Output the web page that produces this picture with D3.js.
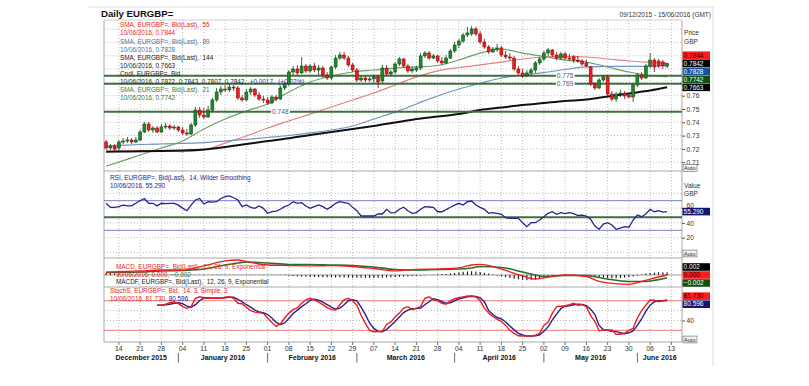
<!DOCTYPE html>
<html>
<head>
<meta charset="utf-8">
<script src="https://cdn.jsdelivr.net/npm/d3@7"></script>
<style>
  html, body { margin: 0; padding: 0; background: #fff; }
  svg { display: block; font-family: 'Liberation Sans', Arial, sans-serif; }
  .pre { white-space: pre; }
</style>
</head>
<body>
<svg id="chart" width="809" height="386"></svg>
<script>
// Daily EURGBP= candles, 09/12/2015 .. 10/06/2016 (one value per trading day)
const openP = [
.7252,.7207,.7222,.7207,.7252,.7259,.7267,.7252,.7267,.7327,
.7387,.7342,.7357,.7327,.7365,.7372,.7357,.7365,.7342,.7320,
.7312,.7380,.7492,.7455,.7440,.7492,.7568,.7628,.7650,.7643,
.7665,.7658,.7583,.7568,.7628,.7650,.7605,.7575,.7568,.7545,
.7590,.7575,.7658,.7688,.7778,.7801,.7771,.7823,.7786,.7823,
.7793,.7808,.7756,.7733,.7816,.7883,.7906,.7883,.7831,.7793,
.7718,.7733,.7718,.7726,.7741,.7711,.7808,.7763,.7778,.7838,
.7876,.7823,.7786,.7793,.7808,.7899,.7921,.7883,.7899,.7861,
.7846,.7883,.7936,.7981,.8011,.8056,.8064,.8102,.8064,.8004,
.7966,.7929,.7951,.7959,.7906,.7891,.7883,.7801,.7771,.7748,
.7771,.7793,.7846,.7876,.7921,.7944,.7906,.7883,.7914,.7883,
.7891,.7868,.7861,.7846,.7816,.7688,.7658,.7718,.7741,.7613,
.7575,.7613,.7620,.7605,.7590,.7680,.7756,.7733,.7823,.7868,
.7861,.7853,.7822];
const highP = [
.7267,.7237,.7237,.7267,.7282,.7289,.7282,.7289,.7342,.7402,
.7402,.7372,.7372,.7387,.7395,.7387,.7380,.7372,.7365,.7350,
.7395,.7515,.7515,.7507,.7523,.7583,.7658,.7673,.7680,.7688,
.7680,.7673,.7605,.7650,.7665,.7658,.7628,.7598,.7590,.7605,
.7605,.7673,.7703,.7793,.7823,.7831,.7891,.7838,.7838,.7846,
.7831,.7823,.7778,.7823,.7906,.7929,.7929,.7899,.7846,.7808,
.7748,.7748,.7741,.7756,.7756,.7831,.7831,.7793,.7853,.7891,
.7883,.7838,.7816,.7823,.7921,.7936,.7936,.7914,.7906,.7891,
.7906,.7951,.8004,.8026,.8072,.8117,.8124,.8117,.8087,.8026,
.7981,.7966,.7989,.7974,.7936,.7921,.7899,.7823,.7801,.7793,
.7808,.7861,.7891,.7936,.7959,.7951,.7929,.7929,.7929,.7914,
.7906,.7899,.7876,.7868,.7823,.7703,.7733,.7756,.7756,.7635,
.7628,.7643,.7635,.7620,.7695,.7771,.7778,.7838,.7921,.7883,
.7876,.7868,.7843];
const lowP = [
.7192,.7192,.7184,.7192,.7237,.7244,.7237,.7244,.7259,.7320,
.7327,.7320,.7320,.7320,.7350,.7342,.7342,.7327,.7305,.7297,
.7305,.7365,.7432,.7425,.7432,.7477,.7553,.7605,.7628,.7628,
.7635,.7568,.7553,.7560,.7605,.7590,.7560,.7545,.7530,.7538,
.7560,.7568,.7643,.7673,.7756,.7756,.7763,.7771,.7771,.7778,
.7756,.7733,.7718,.7718,.7801,.7868,.7868,.7816,.7778,.7703,
.7703,.7703,.7703,.7695,.7658,.7695,.7748,.7748,.7763,.7823,
.7808,.7771,.7771,.7778,.7793,.7883,.7868,.7876,.7846,.7831,
.7838,.7876,.7921,.7959,.7996,.8041,.8049,.8049,.7989,.7951,
.7914,.7921,.7929,.7891,.7876,.7868,.7786,.7756,.7733,.7741,
.7756,.7771,.7831,.7861,.7899,.7891,.7868,.7868,.7868,.7861,
.7846,.7846,.7823,.7816,.7673,.7643,.7650,.7703,.7598,.7560,
.7553,.7590,.7575,.7583,.7553,.7665,.7718,.7726,.7808,.7778,
.7808,.7801,.7807];
const closeP = [
.7207,.7222,.7199,.7252,.7259,.7267,.7252,.7267,.7327,.7387,
.7342,.7357,.7327,.7365,.7372,.7357,.7365,.7342,.7320,.7312,
.7380,.7492,.7455,.7440,.7492,.7568,.7628,.7650,.7643,.7665,
.7658,.7583,.7568,.7628,.7650,.7605,.7575,.7568,.7545,.7590,
.7575,.7658,.7688,.7778,.7801,.7771,.7823,.7786,.7823,.7793,
.7808,.7756,.7733,.7816,.7883,.7906,.7883,.7831,.7793,.7718,
.7733,.7718,.7726,.7741,.7703,.7808,.7763,.7778,.7838,.7876,
.7823,.7786,.7801,.7808,.7899,.7921,.7883,.7899,.7861,.7846,
.7883,.7936,.7981,.8011,.8056,.8072,.8102,.8064,.8004,.7966,
.7929,.7951,.7959,.7906,.7891,.7883,.7801,.7771,.7748,.7771,
.7793,.7846,.7876,.7921,.7944,.7906,.7883,.7914,.7883,.7876,
.7868,.7861,.7838,.7823,.7688,.7658,.7718,.7741,.7613,.7575,
.7613,.7620,.7598,.7590,.7680,.7756,.7733,.7823,.7868,.7816,
.7823,.7825,.7842];

// moving averages, read at each Monday (plus first and last day)
const smaDays = [0,3,8,13,18,23,28,33,38,43,48,53,58,63,68,73,78,83,88,93,98,103,108,113,118,123,128,132];
const sma21 = [.7071,.7101,.7154,.7207,.7259,.7350,.7425,.7485,.7538,.7628,.7703,.7748,.7778,.7793,
  .7808,.7816,.7827,.7868,.7920,.7950,.7920,.7895,.7868,.7853,.7816,.7778,.7752,.7742];
const sma55 = [.7184,.7184,.7188,.7184,.7180,.7192,.7244,.7297,.7357,.7410,.7462,.7515,.7568,.7620,
  .7680,.7741,.7786,.7812,.7831,.7853,.7876,.7891,.7895,.7891,.7876,.7861,.7850,.7844];
const sma89 = [.7222,.7226,.7233,.7237,.7241,.7248,.7259,.7271,.7286,.7301,.7320,.7342,.7372,.7425,
  .7477,.7538,.7598,.7650,.7693,.7733,.7756,.7774,.7797,.7816,.7820,.7820,.7823,.7828];
const sma144 = [.7179,.7180,.7182,.7184,.7188,.7195,.7214,.7237,.7259,.7280,.7305,.7327,.7350,.7372,
  .7398,.7425,.7444,.7462,.7492,.7511,.7530,.7545,.7560,.7571,.7594,.7617,.7639,.7663];

// hand-drawn support lines and where their labels sit
const levels = [0.775, 0.769, 0.748];
const levelLabelDay = [108, 108, 41];

// RSI 14, Wilder smoothing
const rsi = [
66.5,61,61,62,64,63,63,66.5,70,73,
66.5,66.5,63,66.5,66,66.5,66.5,64,60,56.5,
64,71,73,65.5,68.6,68,68.6,73,75.4,76.4,
74,70.9,62,64.2,61,59.7,62.8,59.7,53,55.1,
56,58.4,62,64.2,68.6,66.5,67.3,62.8,59.7,62,
64.2,61.9,58.4,62,66.5,68.6,67.5,66.5,61,56.5,
49.3,49.3,49.3,49.3,52,52,58.4,53.5,54,58.4,
61.1,56.5,53,54,58.4,61.9,61.5,61.1,55.1,55.1,
58,61.1,64,66.5,64.2,68.6,69.6,64.2,61,58.4,
53,53.8,53,51.6,47,46.2,46.2,46.2,40.3,34.9,
40.3,40.3,44,48.4,53,55.1,51.6,53.8,52.5,53.8,
52.5,50,50.5,49.3,45,35.8,31.5,38.5,40.3,37.2,
31.4,33.1,34.9,34.1,43.9,50.7,48.4,52,58.4,55.1,
56.5,54.7,55.29];
const rsiBands = [70, 30];
const rsiMark = 47.5;

// MACD 12/26/9
const macdDays = [0,8,13,18,23,28,31,33,38,43,48,53,58,63,68,73,78,83,86,88,93,98,101,103,108,113,116,118,123,126,128,132];
const macdLine = [.0022,.0030,.0037,.0037,.0067,.0104,.0111,.0100,.0074,.0070,.0067,.0070,.0063,.0048,.0030,.0041,
  .0044,.0052,.0074,.0078,.0044,-.0007,-.0030,-.0022,.0000,-.0011,-.0048,-.0059,-.0069,-.0048,-.0030,.0000];
const macdSignal = [.0019,.0022,.0030,.0033,.0044,.0074,.0089,.0096,.0089,.0078,.0078,.0074,.0070,.0059,.0041,.0037,
  .0041,.0044,.0052,.0063,.0056,.0022,.0000,-.0011,-.0004,-.0004,-.0019,-.0030,-.0048,-.0048,-.0044,-.0020];
const macdHist = [
.0016,.0014,.0012,.0010,.0003,.0003,.0003,.0003,.0003,.0003,
.0003,.0003,.0003,.0002,.0002,.0002,.0002,.0002,.0002,.0002,
.0002,.0002,.0002,.0002,.0002,.0002,.0002,.0002,.0002,.0002,
.0002,.0002,.0002,.0002,.0002,.0002,.0002,.0002,.0002,.0002,
.0002,.0002,.0002,-.0005,-.0008,-.0010,-.0012,-.0012,-.0014,-.0015,
-.0016,-.0016,-.0017,-.0018,-.0018,-.0018,-.0019,-.0020,-.0020,-.0020,
-.0021,-.0021,-.0022,-.0022,-.0021,-.0020,-.0019,-.0018,-.0016,-.0014,
-.0012,-.0010,-.0008,-.0006,-.0004,-.0002,.0000,.0002,.0004,.0006,
.0008,.0012,.0016,.0020,.0024,.0026,.0028,.0026,.0022,.0016,
.0010,.0004,-.0004,-.0010,-.0016,-.0022,-.0028,-.0032,-.0036,-.0038,
-.0036,-.0032,-.0026,-.0020,-.0014,-.0008,-.0004,-.0003,-.0002,-.0002,
-.0003,-.0004,-.0005,-.0006,-.0010,-.0014,-.0018,-.0020,-.0022,-.0024,
-.0024,-.0022,-.0020,-.0016,-.0010,-.0004,.0004,.0010,.0014,.0018,
.0020,.0020,.0020];

// Slow stochastic 14/3/3, first value on day 12
const stochStart = 12;
const stochK = [
71,71,73,76,78,74,68,64.6,68,85,
88,86,85,85,86,85,87,88,85,75,
74,67,60,57,55.5,54.5,45,36,28,33,
45,55,62,66,75,82,85,82,77,72,
66,62,61,72,82,85,80,71,50,34,
20,17,17.5,18,32,37,47,55,65,68,
62,65,68,85,88,82,80,75,73,80,
84,86,88,90,90,88,80,65,55,48,
42,38,30,20,14,9,8.4,8.4,8.5,10,
14,30,37,55,68,69,70,72,75,71,
72,68,50,38,19,20.6,21,20.6,12,12,
14,20,24,45,60,71,81.5,81,78,80,
81.73];
const stochD = [
71,71,72,73,75,76,74,69,67,72,
80,86,86,85,85,85,86,87,87,83,
78,72,67,61,57.5,56,52,45,36,32,
35,44,54,61,68,74,81,83,81,77,
72,67,63,65,72,80,82,80,67,52,
35,24,18,17,22,30,38,47,56,61,
64,64,65,72,78,84,82,78,75,76,
80,84,86,88,89,88.5,86,78,60,52,
46,43,37,29,21,14,10.5,8.6,8.5,9,
11,18,27,41,53,64,69,70,72,73,
72.7,70,63,52,30,21,20,18,18,15,
13,15,19,30,43,59,71,78,80,80,
80.596];
const stochBands = [80, 20];

const priceTicks = [0.71, 0.72, 0.73, 0.74, 0.75, 0.76];
const priceGrid = [0.71, 0.72, 0.73, 0.74, 0.75, 0.76, 0.77, 0.78, 0.79, 0.80, 0.81];

// ------------------------------------------------------------------
const C = {
  up: '#1d8a2a', upEdge: '#0c3d12', down: '#f21a1a', downEdge: '#7a0a0a',
  red: '#e02828', blue: '#4a74aa', dark: '#222', green: '#3b7d3b', navy: '#24248a',
  grid: '#bdbdbd', frame: '#a9a9a9', level: '#3f6f3f',
};
const svg = d3.select('#chart');
const plotL = 104, plotR = 682, outerR = 713;
const P = {
  price: [20, 171], rsi: [171, 258], macd: [258, 287], stoch: [287, 342],
};

const days = [];
for (let d = new Date(2015, 11, 9); d <= new Date(2016, 5, 15); d.setDate(d.getDate() + 1)) {
  if (d.getDay() % 6 !== 0) days.push(new Date(d));
}
const last = closeP.length - 1;
const x = d3.scaleBand().domain(d3.range(days.length)).range([plotL, plotR]).padding(0);
const cx = (i) => x(i) + x.bandwidth() / 2;

const yP = d3.scaleLinear().domain([0.7034, 0.8169]).range([171, 20]);
const yR = d3.scaleLinear().domain([0, 100]).range([252.5, 178.5]);
const yM = d3.scaleLinear().domain([-0.00889, 0.01259]).range([287, 258]);
const yS = d3.scaleLinear().domain([0, 100]).range([340.2, 290.9]);

const dmy = d3.timeFormat('%d/%m/%Y');
const f4 = d3.format('.4f'), f3 = d3.format('.3f');
const mondays = d3.range(days.length).filter((i) => days[i].getDay() === 1);

// clip paths
const defs = svg.append('defs');
for (const [k, [t, b]] of Object.entries(P)) {
  defs.append('clipPath').attr('id', 'clip-' + k)
    .append('rect').attr('x', plotL).attr('y', t).attr('width', plotR - plotL).attr('height', b - t);
}

// page frame + title
svg.append('line').attr('x1', 88).attr('x2', outerR).attr('y1', 7).attr('y2', 7).attr('stroke', '#dcdcdc');
svg.append('line').attr('x1', outerR).attr('x2', outerR).attr('y1', 7).attr('y2', 366).attr('stroke', '#dcdcdc');
svg.append('text').attr('x', 101).attr('y', 16.5).attr('font-size', 9.6).attr('font-weight', 'bold')
  .attr('fill', '#111').text('Daily EURGBP=');
svg.append('text').attr('x', 711).attr('y', 17).attr('text-anchor', 'end').attr('font-size', 6.5)
  .attr('fill', '#333').text(`${dmy(days[0])} - ${dmy(days[days.length - 1])} (GMT)`);

// grids
const gridG = svg.append('g');
for (const [t, b] of Object.values(P)) {
  gridG.append('g').selectAll('line').data(mondays).join('line')
    .attr('x1', (i) => cx(i)).attr('x2', (i) => cx(i)).attr('y1', t).attr('y2', b)
    .attr('stroke', C.grid).attr('stroke-dasharray', '1,2');
}
function hGrid(scale, vals) {
  gridG.append('g').selectAll('line').data(vals).join('line')
    .attr('x1', plotL).attr('x2', plotR).attr('y1', (v) => scale(v)).attr('y2', (v) => scale(v))
    .attr('stroke', C.grid).attr('stroke-dasharray', '1,2');
}
hGrid(yP, priceGrid);
hGrid(yR, [0, 20, 40, 60, 80]);
hGrid(yS, [40, 60]);

// frames
const frame = svg.append('g').attr('stroke', C.frame).attr('fill', 'none');
frame.append('line').attr('x1', plotL).attr('x2', plotL).attr('y1', 20).attr('y2', 342);
frame.append('line').attr('x1', plotR).attr('x2', plotR).attr('y1', 20).attr('y2', 342);
frame.append('line').attr('x1', plotL).attr('x2', plotR).attr('y1', 20).attr('y2', 20).attr('stroke', '#cfcfcf');
for (const yy of [171, 258, 287, 342]) {
  frame.append('line').attr('x1', plotL).attr('x2', plotR).attr('y1', yy).attr('y2', yy);
}

// ---------------- price panel ----------------
const pg = svg.append('g').attr('clip-path', 'url(#clip-price)');
const smaLine = (arr) => d3.line().x((d, k) => cx(smaDays[k])).y((d) => yP(d)).curve(d3.curveMonotoneX)(arr);
pg.append('path').attr('d', smaLine(sma55)).attr('fill', 'none').attr('stroke', '#e48080').attr('stroke-width', 1.2);
pg.append('path').attr('d', smaLine(sma89)).attr('fill', 'none').attr('stroke', '#6f93c0').attr('stroke-width', 1.2);
pg.append('path').attr('d', smaLine(sma21)).attr('fill', 'none').attr('stroke', '#6d9e6d').attr('stroke-width', 1.2);
pg.append('path').attr('d', smaLine(sma144)).attr('fill', 'none').attr('stroke', '#111').attr('stroke-width', 2);

pg.append('g').selectAll('line').data(levels).join('line')
  .attr('x1', plotL).attr('x2', plotR).attr('y1', (v) => yP(v)).attr('y2', (v) => yP(v))
  .attr('stroke', C.level).attr('stroke-width', 2);

const candles = pg.append('g').selectAll('g').data(d3.range(closeP.length)).join('g');
candles.append('line')
  .attr('x1', (i) => cx(i)).attr('x2', (i) => cx(i))
  .attr('y1', (i) => yP(highP[i])).attr('y2', (i) => yP(lowP[i]))
  .attr('stroke', (i) => closeP[i] >= openP[i] ? C.upEdge : C.downEdge).attr('stroke-width', 0.8);
candles.append('rect')
  .attr('x', (i) => cx(i) - 1.5).attr('width', 3)
  .attr('y', (i) => yP(Math.max(openP[i], closeP[i])))
  .attr('height', (i) => Math.max(1, Math.abs(yP(openP[i]) - yP(closeP[i]))))
  .attr('fill', (i) => closeP[i] >= openP[i] ? C.up : C.down)
  .attr('stroke', (i) => closeP[i] >= openP[i] ? C.upEdge : C.downEdge).attr('stroke-width', 0.5);

// level labels
levels.forEach((v, k) => {
  const g = svg.append('g');
  const t = g.append('text').attr('x', cx(levelLabelDay[k])).attr('y', yP(v) + 2.3)
    .attr('text-anchor', 'middle').attr('font-size', 6.6).attr('fill', '#50509a').text(d3.format('.3f')(v));
  const bb = t.node().getBBox();
  g.insert('rect', 'text').attr('x', bb.x - 1).attr('y', bb.y).attr('width', bb.width + 2).attr('height', bb.height)
    .attr('fill', '#fff');
});

// price legend
const chg = closeP[last] - closeP[last - 1];
const sgn = (v) => (v >= 0 ? '+' : '') ;
const priceLegend = [
  [['SMA, EURGBP=, Bid(Last),  55', C.red]],
  [[`${dmy(days[last])}, ${f4(sma55[sma55.length - 1])}`, C.red]],
  [['SMA, EURGBP=, Bid(Last),  89', C.blue]],
  [[`${dmy(days[last])}, ${f4(sma89[sma89.length - 1])}`, C.blue]],
  [['SMA, EURGBP=, Bid(Last),  144', C.dark]],
  [[`${dmy(days[last])}, ${f4(sma144[sma144.length - 1])}`, C.dark]],
  [['Cndl, EURGBP=, Bid', C.dark]],
  [[`${dmy(days[last])}, ${f4(openP[last])}, ${f4(highP[last])}, ${f4(lowP[last])}, ${f4(closeP[last])},  `, C.dark],
   [`${sgn(chg)}${f4(chg)},  (${sgn(chg)}${d3.format('.2f')(chg / closeP[last - 1] * 100)}%)`, '#2b2bc4']],
  [['SMA, EURGBP=, Bid(Last),  21', C.green]],
  [[`${dmy(days[last])}, ${f4(sma21[sma21.length - 1])}`, C.green]],
];
function legend(rows, x0, y0, step) {
  rows.forEach((parts, r) => {
    const t = svg.append('text').attr('class', 'pre').attr('x', x0).attr('y', y0 + r * step).attr('font-size', 6.4);
    parts.forEach(([s, col]) => t.append('tspan').attr('fill', col).text(s));
  });
}
legend(priceLegend, 120, 27.4, 8.07);

// ---------------- RSI panel ----------------
const rg = svg.append('g').attr('clip-path', 'url(#clip-rsi)');
rg.append('g').selectAll('line').data(rsiBands).join('line')
  .attr('x1', plotL).attr('x2', plotR).attr('y1', (v) => yR(v)).attr('y2', (v) => yR(v))
  .attr('stroke', '#7c7cc6').attr('stroke-width', 1);
rg.append('line').attr('x1', plotL).attr('x2', plotR).attr('y1', yR(rsiMark)).attr('y2', yR(rsiMark))
  .attr('stroke', C.level).attr('stroke-width', 2);
rg.append('path').attr('d', d3.line().x((d, i) => cx(i)).y((d) => yR(d))(rsi))
  .attr('fill', 'none').attr('stroke', C.navy).attr('stroke-width', 1.3);
legend([[['RSI, EURGBP=, Bid(Last),  14, Wilder Smoothing', C.navy]],
        [[`${dmy(days[last])}, ${f3(rsi[last])}`, C.navy]]], 110, 179.6, 8.3);

// ---------------- MACD panel ----------------
const mg = svg.append('g').attr('clip-path', 'url(#clip-macd)');
mg.append('line').attr('x1', plotL).attr('x2', plotR).attr('y1', yM(0)).attr('y2', yM(0)).attr('stroke', '#9a9a9a');
mg.append('g').selectAll('line').data(macdHist).join('line')
  .attr('x1', (d, i) => cx(i)).attr('x2', (d, i) => cx(i))
  .attr('y1', yM(0)).attr('y2', (d) => yM(d)).attr('stroke', '#000').attr('stroke-width', 1);
const macdPath = (arr) => d3.line().x((d, k) => cx(macdDays[k])).y((d) => yM(d)).curve(d3.curveMonotoneX)(arr);
mg.append('path').attr('d', macdPath(macdSignal)).attr('fill', 'none').attr('stroke', '#2f6a2f').attr('stroke-width', 1.6);
mg.append('path').attr('d', macdPath(macdLine)).attr('fill', 'none').attr('stroke', '#f01c1c').attr('stroke-width', 1.3);
legend([[['MACD, EURGBP=, Bid(Last),  12, 26, 9, Exponential', C.red]],
        [[`${dmy(days[last])}, ${f3(macdLine[macdLine.length - 1])}, `, C.red],
         [f3(macdSignal[macdSignal.length - 1]), C.green]],
        [['MACDF, EURGBP=, Bid(Last),  12, 26, 9, Exponential', C.dark]]], 116, 268.9, 7.6);

// ---------------- Stochastic panel ----------------
const sg = svg.append('g').attr('clip-path', 'url(#clip-stoch)');
sg.append('g').selectAll('line').data(stochBands).join('line')
  .attr('x1', plotL).attr('x2', plotR).attr('y1', (v) => yS(v)).attr('y2', (v) => yS(v))
  .attr('stroke', '#e87a7a').attr('stroke-width', 1);
const stochPath = d3.line().x((d, k) => cx(stochStart + k)).y((d) => yS(d));
sg.append('path').attr('d', stochPath(stochD)).attr('fill', 'none').attr('stroke', C.navy).attr('stroke-width', 1.4);
sg.append('path').attr('d', stochPath(stochK)).attr('fill', 'none').attr('stroke', '#f01c1c').attr('stroke-width', 1.4);
legend([[['StochS, EURGBP=, Bid,  14, 3, Simple, 3', C.red]],
        [[`${dmy(days[last])}, ${f3(stochK[stochK.length - 1])}, `, C.red],
         [f3(stochD[stochD.length - 1]), C.navy]]], 110, 293.3, 7.3);

// ---------------- right axes ----------------
function rightAxis(scale, vals, fmt) {
  const g = svg.append('g').attr('transform', `translate(${plotR},0)`)
    .call(d3.axisRight(scale).tickValues(vals).tickFormat(fmt).tickSize(3).tickPadding(1.5));
  g.select('.domain').remove();
  g.selectAll('line').attr('stroke', '#555');
  g.selectAll('text').attr('font-size', 6.6).attr('fill', '#333').attr('font-family', null);
  return g;
}
rightAxis(yP, priceTicks, d3.format('.2f'));
const rsiAxis = rightAxis(yR, [20, 40, 60], d3.format('d'));
// the 60 label peeks out above the RSI value tag, as in the source chart
rsiAxis.selectAll('.tick').filter((d) => d === 60).select('text').attr('dy', '-0.05em');
rightAxis(yS, [40], d3.format('d'));

const hdr = (s, yy) => svg.append('text').attr('x', 684).attr('y', yy).attr('font-size', 6.6).attr('fill', '#333').text(s);
hdr('Price', 34.6); hdr('GBP', 43.9); hdr('Value', 188); hdr('GBP', 196.3);

// last-value tags, spread apart when they collide
function spread(items, gap) {
  items.sort((a, b) => a.y0 - b.y0);
  let groups = items.map((d) => ({ items: [d], mean: d.y0 }));
  let merged = true;
  while (merged) {
    merged = false;
    for (let k = 0; k < groups.length - 1; k++) {
      const g = groups[k], h = groups[k + 1];
      const gb = g.mean + (g.items.length - 1) * gap / 2;
      const ht = h.mean - (h.items.length - 1) * gap / 2;
      if (ht - gb < gap) {
        const all = g.items.concat(h.items);
        groups.splice(k, 2, { items: all, mean: d3.mean(all, (d) => d.y0) });
        merged = true;
        break;
      }
    }
  }
  groups.forEach((g) => g.items.forEach((d, k) => { d.y = g.mean + (k - (g.items.length - 1) / 2) * gap; }));
}
function tags(items, scale) {
  items.forEach((d) => { d.y0 = scale(d.v); });
  spread(items, 8);
  for (const d of items) {
    svg.append('rect').attr('x', 682.5).attr('y', d.y - 3.8).attr('width', 27.5).attr('height', 7.6).attr('fill', d.bg);
    svg.append('text').attr('x', 683.6).attr('y', d.y + 2.3).attr('font-size', 6.5).attr('fill', d.fg).text(d.label);
  }
}
tags([
  { v: sma55[sma55.length - 1], label: f4(sma55[sma55.length - 1]), bg: '#ff1c1c', fg: '#300' },
  { v: closeP[last], label: f4(closeP[last]), bg: '#000', fg: '#fff' },
  { v: sma89[sma89.length - 1], label: f4(sma89[sma89.length - 1]), bg: '#1d4f9c', fg: '#fff' },
  { v: sma21[sma21.length - 1], label: f4(sma21[sma21.length - 1]), bg: '#124f12', fg: '#fff' },
  { v: sma144[sma144.length - 1], label: f4(sma144[sma144.length - 1]), bg: '#000', fg: '#fff' },
], yP);
tags([{ v: rsi[last], label: f3(rsi[last]), bg: '#16166e', fg: '#fff' }], yR);
tags([
  { v: macdHist[last], label: f3(macdHist[last]), bg: '#000', fg: '#fff' },
  { v: macdLine[macdLine.length - 1], label: f3(macdLine[macdLine.length - 1]), bg: '#ff1c1c', fg: '#300' },
  { v: macdSignal[macdSignal.length - 1], label: f3(macdSignal[macdSignal.length - 1]), bg: '#124f12', fg: '#fff' },
], yM);
tags([
  { v: stochK[stochK.length - 1], label: f3(stochK[stochK.length - 1]), bg: '#ff1c1c', fg: '#300' },
  { v: stochD[stochD.length - 1], label: f3(stochD[stochD.length - 1]), bg: '#16166e', fg: '#fff' },
], yS);

// "Auto" buttons
for (const yy of [168, 253.5, 339.5]) {
  svg.append('rect').attr('x', 683).attr('y', yy - 3.4).attr('width', 14).attr('height', 6.8)
    .attr('fill', '#f4f4f4').attr('stroke', '#777').attr('stroke-width', 0.7);
  svg.append('text').attr('x', 684).attr('y', yy + 2).attr('font-size', 5.6).attr('fill', '#222').text('Auto');
}

// ---------------- x axis ----------------
const xa = svg.append('g').attr('transform', 'translate(0,342)')
  .call(d3.axisBottom(x).tickValues(mondays).tickFormat((i) => d3.timeFormat('%d')(days[i])).tickSize(3));
xa.select('.domain').remove();
xa.selectAll('line').attr('stroke', '#777');
xa.selectAll('text').attr('y', 4.6).attr('font-size', 6.8).attr('fill', '#333').attr('font-family', null);

const monthStarts = d3.range(1, days.length).filter((i) => days[i].getMonth() !== days[i - 1].getMonth());
svg.append('g').selectAll('line').data(monthStarts).join('line')
  .attr('x1', (i) => cx(i)).attr('x2', (i) => cx(i)).attr('y1', 353).attr('y2', 362.5)
  .attr('stroke', '#666').attr('stroke-width', 1);
const bounds = [plotL, ...monthStarts.map(cx), plotR];
const monthFirst = [0, ...monthStarts];
svg.append('g').selectAll('text').data(monthFirst).join('text')
  .attr('x', (i, k) => (bounds[k] + bounds[k + 1]) / 2).attr('y', 360.3)
  .attr('text-anchor', 'middle').attr('font-size', 7).attr('font-weight', 'bold').attr('fill', '#111')
  .text((i) => d3.timeFormat('%B %Y')(days[i]));
</script>
</body>
</html>
